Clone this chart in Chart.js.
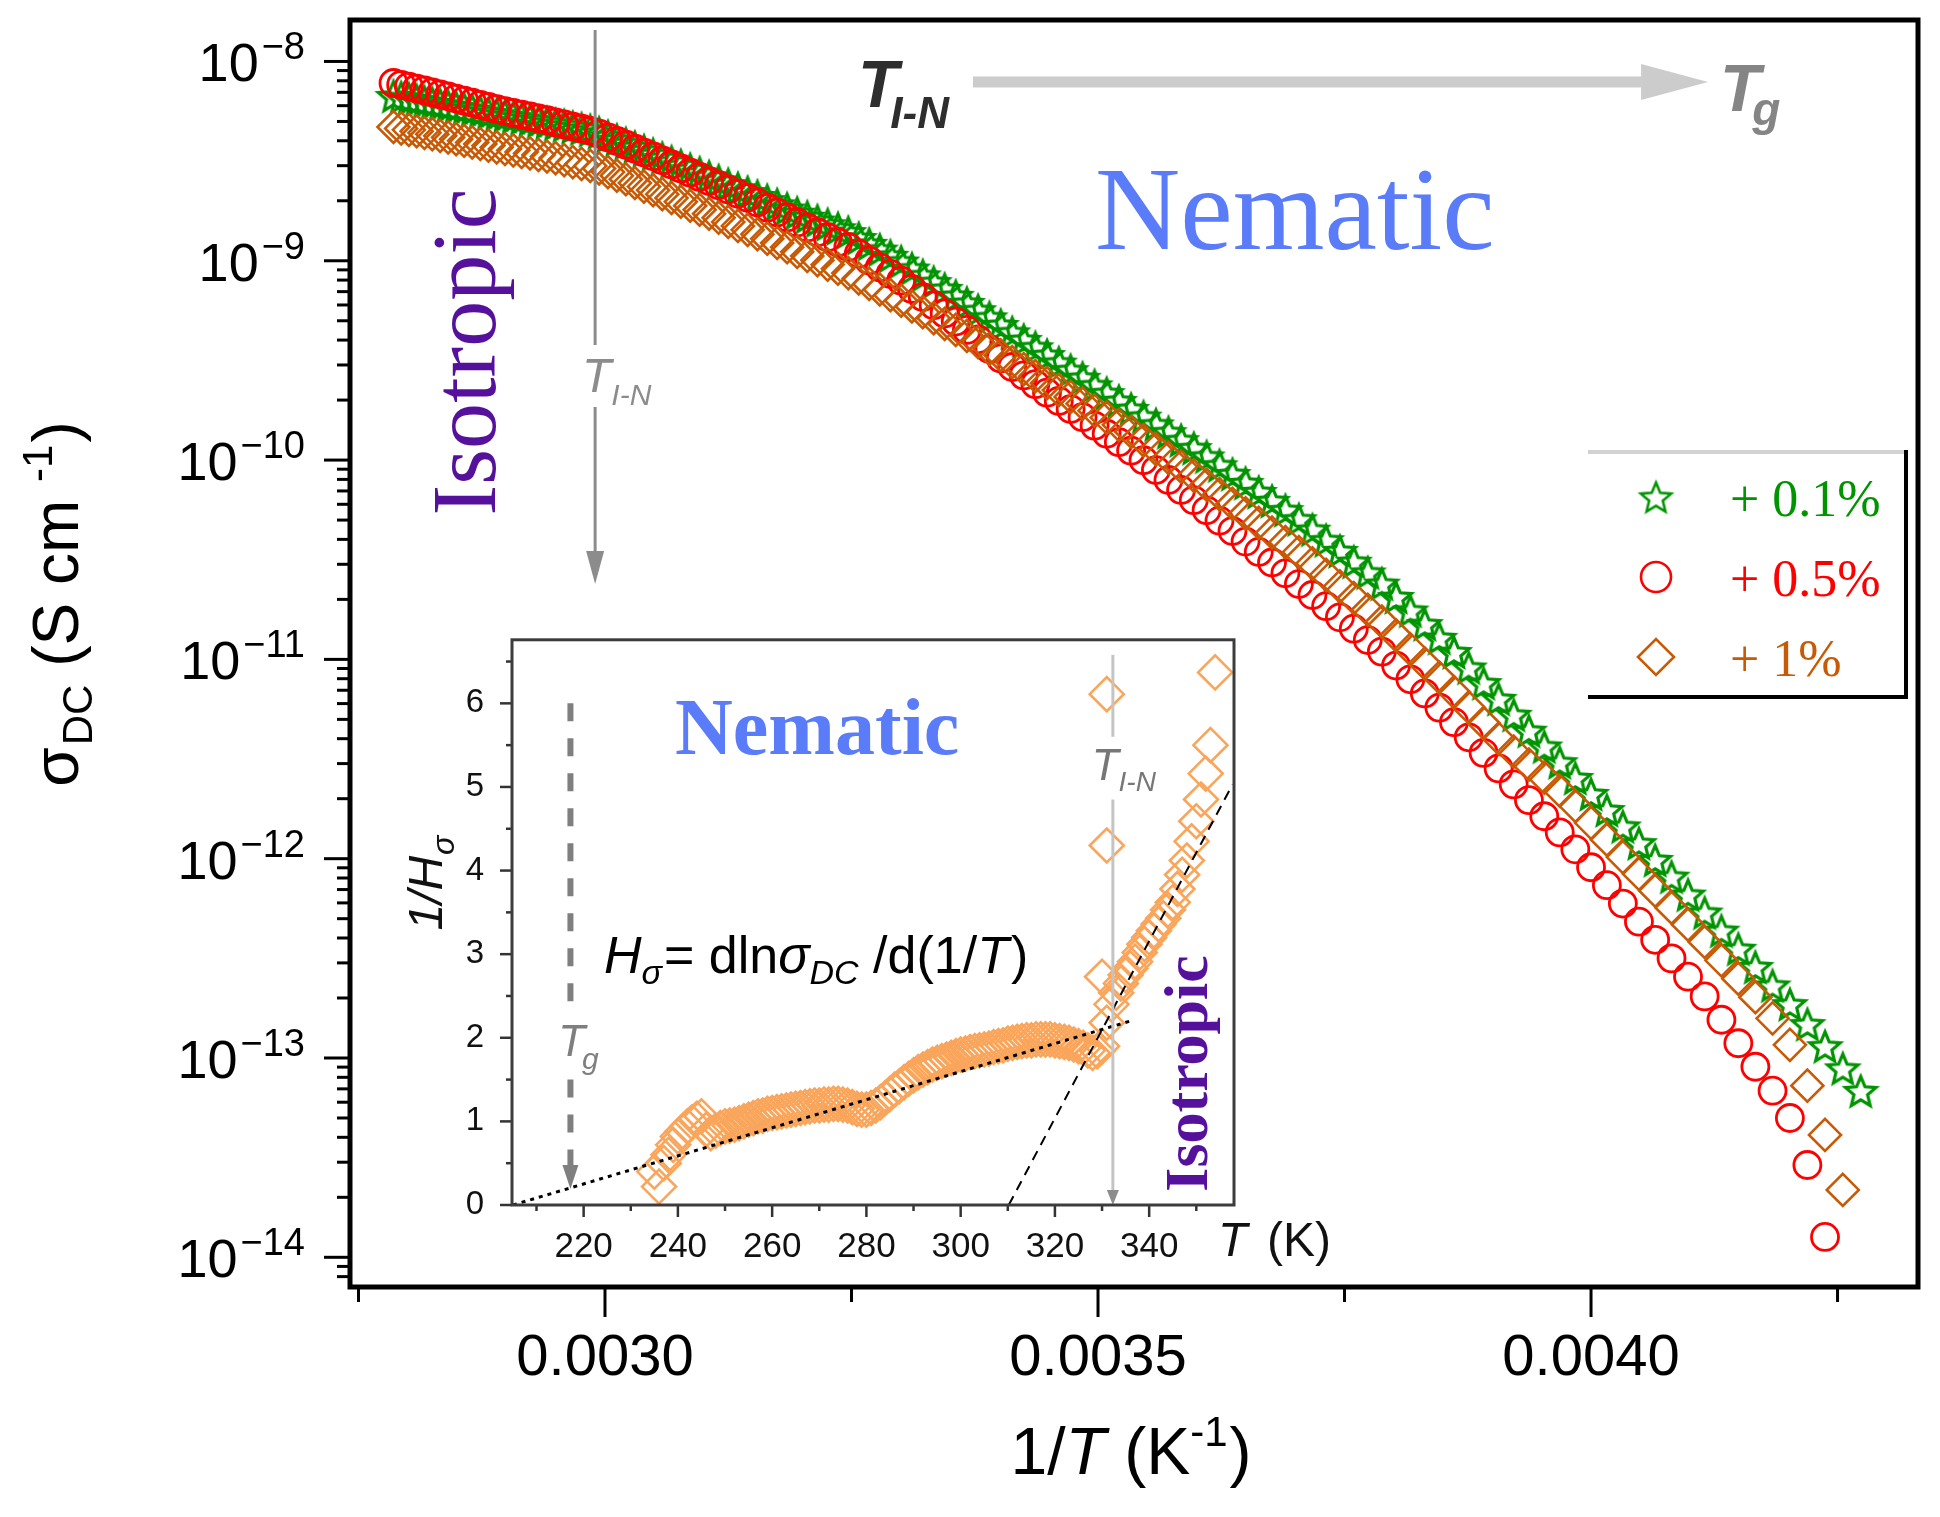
<!DOCTYPE html>
<html>
<head>
<meta charset="utf-8">
<script src="https://cdn.jsdelivr.net/npm/chart.js@4.4.0/dist/chart.umd.min.js"></script>
<style>
  html, body { margin: 0; padding: 0; background: #fff; }
  #wrap { position: relative; width: 1940px; height: 1517px; }
  #main-chart { position: absolute; left: 0; top: 0; }
  #inset-chart { position: absolute; left: 380px; top: 600px; }
</style>
</head>
<body>
<div id="wrap">
  <canvas id="main-chart" width="1940" height="1517"></canvas>
  <canvas id="inset-chart" width="970" height="690"></canvas>
</div>
<script>
const SANS = '"Liberation Sans", Arial, sans-serif';
const SERIF = '"Liberation Serif", "Times New Roman", serif';

// measurement temperatures (K); plotted as 1/T
const tempK = [
  359, 358, 357, 356, 355, 354, 353, 352, 351, 350,
  349, 348, 347, 346, 345, 344, 343, 342, 341, 340,
  339, 338, 337, 336, 335, 334, 333, 332, 331, 330,
  329, 328, 327, 326, 325, 324, 323, 322, 321, 320,
  319, 318, 317, 316, 315, 314, 313, 312, 311, 310,
  309, 308, 307, 306, 305, 304, 303, 302, 301, 300,
  299, 298, 297, 296, 295, 294, 293, 292, 291, 290,
  289, 288, 287, 286, 285, 284, 283, 282, 281, 280,
  279, 278, 277, 276, 275, 274, 273, 272, 271, 270,
  269, 268, 267, 266, 265, 264, 263, 262, 261, 260,
  259, 258, 257, 256, 255, 254, 253, 252, 251, 250,
  249, 248, 247, 246, 245, 244, 243, 242, 241, 240,
  239, 238, 237, 236, 235, 234
];

// log10 of sigma_DC (S/cm), same order as tempK
const logSigma01 = [
  -8.173, -8.180, -8.187, -8.194, -8.201, -8.208, -8.215, -8.222, -8.229, -8.236,
  -8.243, -8.251, -8.258, -8.265, -8.272, -8.279, -8.286, -8.292, -8.299, -8.306,
  -8.314, -8.321, -8.329, -8.337, -8.345, -8.357, -8.375, -8.393, -8.411, -8.429,
  -8.447, -8.465, -8.484, -8.502, -8.521, -8.540, -8.558, -8.577, -8.597, -8.616,
  -8.636, -8.655, -8.675, -8.696, -8.717, -8.738, -8.759, -8.779, -8.798, -8.817,
  -8.837, -8.856, -8.886, -8.915, -8.944, -8.975, -9.004, -9.039, -9.073, -9.107,
  -9.141, -9.176, -9.211, -9.248, -9.284, -9.322, -9.359, -9.397, -9.434, -9.473,
  -9.511, -9.549, -9.587, -9.625, -9.664, -9.703, -9.743, -9.782, -9.821, -9.860,
  -9.900, -9.940, -9.982, -10.026, -10.070, -10.115, -10.160, -10.205, -10.251, -10.297,
  -10.349, -10.402, -10.456, -10.510, -10.564, -10.620, -10.687, -10.755, -10.823, -10.892,
  -10.963, -11.041, -11.119, -11.198, -11.278, -11.358, -11.437, -11.516, -11.595, -11.675,
  -11.756, -11.838, -11.922, -12.006, -12.090, -12.180, -12.270, -12.361, -12.452, -12.543,
  -12.636, -12.730, -12.830, -12.941, -13.052, -13.165
];
const logSigma05 = [
  -8.108, -8.117, -8.126, -8.136, -8.145, -8.155, -8.165, -8.175, -8.186, -8.197,
  -8.207, -8.218, -8.228, -8.239, -8.249, -8.258, -8.267, -8.276, -8.286, -8.295,
  -8.306, -8.316, -8.327, -8.337, -8.348, -8.362, -8.381, -8.399, -8.418, -8.438,
  -8.457, -8.476, -8.496, -8.517, -8.537, -8.558, -8.579, -8.600, -8.621, -8.642,
  -8.663, -8.684, -8.708, -8.734, -8.758, -8.783, -8.808, -8.833, -8.857, -8.882,
  -8.907, -8.931, -8.965, -8.999, -9.033, -9.066, -9.100, -9.141, -9.182, -9.223,
  -9.264, -9.305, -9.347, -9.394, -9.443, -9.490, -9.533, -9.575, -9.619, -9.662,
  -9.703, -9.744, -9.785, -9.827, -9.868, -9.910, -9.953, -10.001, -10.050, -10.100,
  -10.150, -10.201, -10.252, -10.304, -10.356, -10.409, -10.461, -10.514, -10.568, -10.622,
  -10.677, -10.733, -10.789, -10.846, -10.903, -10.961, -11.031, -11.100, -11.171, -11.242,
  -11.315, -11.391, -11.469, -11.547, -11.627, -11.706, -11.787, -11.868, -11.953, -12.043,
  -12.133, -12.225, -12.316, -12.407, -12.500, -12.592, -12.691, -12.808, -12.926, -13.044,
  -13.164, -13.301, -13.537, -13.898
];
const logSigma1 = [
  -8.329, -8.336, -8.343, -8.350, -8.358, -8.365, -8.373, -8.381, -8.390, -8.398,
  -8.406, -8.414, -8.422, -8.431, -8.439, -8.446, -8.454, -8.461, -8.469, -8.477,
  -8.485, -8.495, -8.505, -8.514, -8.524, -8.537, -8.555, -8.573, -8.591, -8.610,
  -8.628, -8.646, -8.666, -8.685, -8.704, -8.724, -8.744, -8.764, -8.784, -8.805,
  -8.825, -8.845, -8.867, -8.889, -8.911, -8.932, -8.955, -8.976, -8.997, -9.019,
  -9.040, -9.062, -9.089, -9.116, -9.144, -9.172, -9.200, -9.229, -9.258, -9.288,
  -9.317, -9.347, -9.377, -9.409, -9.442, -9.475, -9.509, -9.544, -9.579, -9.614,
  -9.649, -9.683, -9.717, -9.752, -9.787, -9.823, -9.858, -9.901, -9.945, -9.989,
  -10.033, -10.078, -10.124, -10.171, -10.219, -10.267, -10.315, -10.364, -10.412, -10.462,
  -10.518, -10.576, -10.634, -10.692, -10.751, -10.811, -10.880, -10.950, -11.021, -11.091,
  -11.164, -11.241, -11.319, -11.397, -11.463, -11.528, -11.593, -11.659, -11.735, -11.820,
  -11.905, -11.992, -12.077, -12.161, -12.246, -12.331, -12.418, -12.510, -12.602, -12.695,
  -12.801, -12.934, -13.139, -13.386, -13.662
];

const seriesNames = ['+ 0.1%', '+ 0.5%', '+ 1%'];
const seriesColors = ['#009400', '#ff0000', '#c85a06'];

// main axes
const xTickVals = [0.00275, 0.0030, 0.00325, 0.0035, 0.00375, 0.0040, 0.00425];
const xTickLabels = ['', '0.0030', '', '0.0035', '', '0.0040', ''];
const yDecades = [-8, -9, -10, -11, -12, -13, -14];

// inset: 1/H_sigma against T
const insetT = [
  235, 236, 237, 238, 239, 240, 241, 242, 243, 244,
  245, 246, 247, 248, 249, 250, 251, 252, 253, 254,
  255, 256, 257, 258, 259, 260, 261, 262, 263, 264,
  265, 266, 267, 268, 269, 270, 271, 272, 273, 274,
  275, 276, 277, 278, 279, 280, 281, 282, 283, 284,
  285, 286, 287, 288, 289, 290, 291, 292, 293, 294,
  295, 296, 297, 298, 299, 300, 301, 302, 303, 304,
  305, 306, 307, 308, 309, 310, 311, 312, 313, 314,
  315, 316, 317, 318, 319, 320, 321, 322, 323, 324,
  325, 326, 327, 328, 329, 330, 331, 332, 333, 334,
  335, 336, 337, 338, 339, 340, 341, 342, 343, 344,
  345, 346, 347, 348, 349, 350, 351, 352, 353,
  330, 331, 331, 354
];
const insetInvH = [
  0.40, 0.22, 0.50, 0.60, 0.72, 0.82, 0.88, 0.94, 0.99, 1.03,
  1.06, 0.90, 0.86, 0.89, 0.92, 0.94, 0.95, 0.96, 0.98, 1.00,
  1.02, 1.04, 1.06, 1.07, 1.09, 1.10, 1.11, 1.12, 1.13, 1.14,
  1.15, 1.16, 1.17, 1.18, 1.19, 1.19, 1.20, 1.20, 1.21, 1.21,
  1.20, 1.19, 1.17, 1.15, 1.14, 1.14, 1.16, 1.19, 1.23, 1.28,
  1.33, 1.38, 1.42, 1.47, 1.51, 1.55, 1.59, 1.62, 1.65, 1.68,
  1.70, 1.72, 1.74, 1.76, 1.78, 1.80, 1.81, 1.83, 1.84, 1.85,
  1.86, 1.87, 1.89, 1.90, 1.91, 1.93, 1.94, 1.95, 1.96, 1.97,
  1.97, 1.98, 1.98, 1.98, 1.98, 1.97, 1.96, 1.95, 1.94, 1.92,
  1.90, 1.88, 1.85, 1.82, 1.84, 1.90, 2.18, 2.40, 2.54, 2.65,
  2.75, 2.83, 2.91, 3.02, 3.12, 3.20, 3.28, 3.36, 3.43, 3.53,
  3.62, 3.78, 3.95, 4.12, 4.35, 4.59, 4.85, 5.16, 5.50,
  2.73, 4.30, 6.11, 6.37
];
const fitNematicT = [205, 336];
const fitNematicH = [0, 2.2];
const fitIsoT = [310.2, 357.7];
const fitIsoH = [0, 5.03];
const insetXTicks = [220, 240, 260, 280, 300, 320, 340];
const insetXMinor = [210, 230, 250, 270, 290, 310, 330, 350];
const insetYTicks = [0, 1, 2, 3, 4, 5, 6];
const insetYMinor = [0.5, 1.5, 2.5, 3.5, 4.5, 5.5, 6.5];

// ---- helpers ----
function makeStar(color, r, lw) {
  const c = document.createElement('canvas');
  const s = Math.ceil(2 * r + lw + 4);
  c.width = s; c.height = s;
  const g = c.getContext('2d');
  g.translate(s / 2, s / 2 + r * 0.1);
  g.beginPath();
  for (let i = 0; i < 10; i++) {
    const rad = i % 2 ? r * 0.45 : r;
    const ang = -Math.PI / 2 + i * Math.PI / 5;
    g.lineTo(rad * Math.cos(ang), rad * Math.sin(ang));
  }
  g.closePath();
  g.strokeStyle = color;
  g.lineWidth = lw;
  g.stroke();
  return c;
}

function richText(ctx, parts, x, y, align) {
  let total = 0;
  parts.forEach(p => {
    ctx.font = p.font;
    p.w = ctx.measureText(p.t).width;
    total += p.w + (p.gap || 0);
  });
  let cx = align === 'center' ? x - total / 2 : (align === 'right' ? x - total : x);
  ctx.textAlign = 'left';
  ctx.textBaseline = 'alphabetic';
  parts.forEach(p => {
    cx += p.gap || 0;
    ctx.font = p.font;
    ctx.fillText(p.t, cx, y + (p.dy || 0));
    cx += p.w;
  });
}

function seg(ctx, x1, y1, x2, y2) {
  ctx.beginPath();
  ctx.moveTo(x1, y1);
  ctx.lineTo(x2, y2);
  ctx.stroke();
}

function arrowDown(ctx, x, tipY, h, hw) {
  ctx.beginPath();
  ctx.moveTo(x - hw, tipY - h);
  ctx.lineTo(x + hw, tipY - h);
  ctx.lineTo(x, tipY);
  ctx.closePath();
  ctx.fill();
}

const starMain = makeStar(seriesColors[0], 16, 3.2);
const starLegend = makeStar(seriesColors[0], 16, 2.6);

function pts(logs) {
  return logs.map((l, i) => ({ x: 1 / tempK[i], y: Math.pow(10, l) }));
}

// ---- main plot decorations ----
const mainDecor = {
  id: 'mainDecor',
  afterDraw(chart) {
    const ctx = chart.ctx;
    const a = chart.chartArea;
    const xs = chart.scales.x, ys = chart.scales.y;
    const X = v => xs.getPixelForValue(v);
    const Y = l => ys.getPixelForValue(Math.pow(10, l));
    ctx.save();

    // ticks
    ctx.strokeStyle = '#000';
    ctx.lineWidth = 3;
    xTickVals.forEach((v, i) => {
      const len = xTickLabels[i] ? 30 : 15;
      seg(ctx, X(v), a.bottom, X(v), a.bottom + len);
    });
    const lmin = Math.log10(ys.min), lmax = Math.log10(ys.max);
    for (let d = -15; d <= -8; d++) {
      for (let m = 1; m <= 9; m++) {
        const l = d + Math.log10(m);
        if (l < lmin || l > lmax) continue;
        const len = m === 1 ? 26 : 13;
        seg(ctx, a.left, Y(l), a.left - len, Y(l));
      }
    }

    // y tick labels 10^-n
    ctx.fillStyle = '#000';
    yDecades.forEach(d => {
      const py = Y(d);
      const sup = '\u2212' + (-d);
      ctx.font = '38px ' + SANS;
      const sw = ctx.measureText(sup).width;
      const sx = a.left - 45 - sw;
      ctx.textAlign = 'left';
      ctx.textBaseline = 'alphabetic';
      ctx.fillText(sup, sx, py - 2);
      ctx.font = '54px ' + SANS;
      ctx.textAlign = 'right';
      ctx.fillText('10', sx - 3, py + 20);
    });

    // axis titles
    richText(ctx, [
      { t: '1/', font: '66px ' + SANS },
      { t: 'T', font: 'italic 66px ' + SANS },
      { t: ' (K', font: '66px ' + SANS },
      { t: '-1', font: '42px ' + SANS, dy: -28 },
      { t: ')', font: '66px ' + SANS, gap: 2 }
    ], (a.left + a.right) / 2 - 3, 1474, 'center');

    ctx.save();
    ctx.translate(78, 604);
    ctx.rotate(-Math.PI / 2);
    richText(ctx, [
      { t: '\u03c3', font: '64px ' + SANS },
      { t: 'DC', font: '42px ' + SANS, dy: 14, gap: 2 },
      { t: ' (S cm ', font: '64px ' + SANS },
      { t: '-1', font: '42px ' + SANS, dy: -26 },
      { t: ')', font: '64px ' + SANS, gap: 2 }
    ], 0, 0, 'center');
    ctx.restore();

    // T_I-N vertical marker with arrow
    const tx = X(0.00299);
    ctx.strokeStyle = '#8c8c8c';
    ctx.fillStyle = '#8c8c8c';
    ctx.lineWidth = 3;
    seg(ctx, tx, Y(-7.842), tx, Y(-9.4225));
    seg(ctx, tx, Y(-9.7336), tx, Y(-10.6217) - 30);
    arrowDown(ctx, tx, Y(-10.6217), 33, 9);
    richText(ctx, [
      { t: 'T', font: 'italic 48px ' + SANS },
      { t: 'I-N', font: 'italic 30px ' + SANS, dy: 13, gap: 0 }
    ], X(0.0029919) - 15, Y(-9.6583), 'left');

    // T_I-N -> T_g arrow
    const ax1 = X(0.0033732), ax2 = X(0.0041187), ay = Y(-8.1028);
    ctx.fillStyle = '#cccccc';
    ctx.fillRect(ax1, ay - 5.5, ax2 - 67 - ax1, 11);
    ctx.beginPath();
    ctx.moveTo(ax2 - 67, ay - 18);
    ctx.lineTo(ax2, ay);
    ctx.lineTo(ax2 - 67, ay + 18);
    ctx.closePath();
    ctx.fill();
    ctx.fillStyle = '#2e2e2e';
    richText(ctx, [
      { t: 'T', font: 'italic bold 66px ' + SANS },
      { t: 'I-N', font: 'italic bold 44px ' + SANS, dy: 21, gap: -8 }
    ], X(0.0032566), Y(-8.2283), 'left');
    ctx.fillStyle = '#858585';
    richText(ctx, [
      { t: 'T', font: 'italic bold 66px ' + SANS },
      { t: 'g', font: 'italic bold 46px ' + SANS, dy: 14, gap: -8 }
    ], X(0.0041308), Y(-8.2483), 'left');

    // phase labels
    ctx.fillStyle = '#5b7cf8';
    ctx.font = '118px ' + SERIF;
    ctx.textAlign = 'left';
    ctx.textBaseline = 'alphabetic';
    ctx.fillText('Nematic', X(0.003497), Y(-8.9408));

    ctx.save();
    ctx.translate(X(0.0028884), Y(-9.4576));
    ctx.rotate(-Math.PI / 2);
    ctx.fillStyle = '#55109c';
    ctx.font = '92px ' + SERIF;
    ctx.textAlign = 'center';
    ctx.fillText('Isotropic', 0, 0);
    ctx.restore();

    // legend box
    const lr = a.right - 12, lt = a.top + 432, lb = lt + 245, ll = lr - 318;
    ctx.lineWidth = 4;
    ctx.strokeStyle = '#d2d2d2';
    seg(ctx, ll, lt, lr, lt);
    ctx.strokeStyle = '#000';
    seg(ctx, lr, lt - 2, lr, lb + 2);
    seg(ctx, ll, lb, lr, lb);
    const styles = [
      { pointStyle: starLegend, radius: 16 },
      { pointStyle: 'circle', radius: 15 },
      { pointStyle: 'rectRot', radius: 18 }
    ];
    seriesNames.forEach((name, i) => {
      const cy = lt + 45 + i * 80;
      ctx.strokeStyle = seriesColors[i];
      ctx.fillStyle = 'rgba(0,0,0,0)';
      ctx.lineWidth = 2.6;
      Chart.helpers.drawPoint(ctx, { pointStyle: styles[i].pointStyle, radius: styles[i].radius, rotation: 0, borderWidth: 2.6 }, ll + 68, cy);
      ctx.fillStyle = seriesColors[i];
      ctx.font = '52px ' + SERIF;
      ctx.textAlign = 'left';
      ctx.textBaseline = 'alphabetic';
      ctx.fillText(name, ll + 142, cy + 19);
    });

    // frame
    ctx.strokeStyle = '#000';
    ctx.lineWidth = 5;
    ctx.strokeRect(a.left, a.top, a.right - a.left, a.bottom - a.top);
    ctx.restore();
  }
};

const mainChart = new Chart(document.getElementById('main-chart'), {
  type: 'scatter',
  data: {
    datasets: [
      {
        label: seriesNames[0], data: pts(logSigma01), order: 3,
        pointStyle: starMain, pointRadius: 16, borderColor: seriesColors[0],
        backgroundColor: 'rgba(0,0,0,0)', pointBorderWidth: 3
      },
      {
        label: seriesNames[1], data: pts(logSigma05), order: 2,
        pointStyle: 'circle', pointRadius: 13.5, borderColor: seriesColors[1],
        backgroundColor: 'rgba(0,0,0,0)', pointBorderWidth: 2.8
      },
      {
        label: seriesNames[2], data: pts(logSigma1), order: 1,
        pointStyle: 'rectRot', pointRadius: 16, borderColor: seriesColors[2],
        backgroundColor: 'rgba(0,0,0,0)', pointBorderWidth: 2.6
      }
    ]
  },
  options: {
    responsive: false,
    devicePixelRatio: 1,
    animation: false,
    events: [],
    layout: { padding: { left: 0, top: 20, right: 22, bottom: 0 } },
    plugins: { legend: { display: false }, tooltip: { enabled: false } },
    scales: {
      x: {
        type: 'linear',
        min: 0.0027414,
        max: 0.0043316,
        grid: { display: false },
        border: { display: false },
        afterBuildTicks: s => { s.ticks = xTickVals.map(v => ({ value: v })); },
        afterFit: s => { s.height = 230; },
        ticks: {
          autoSkip: false,
          maxRotation: 0,
          padding: 29,
          color: '#000',
          font: { family: SANS, size: 58 },
          callback: (v, i) => xTickLabels[i]
        }
      },
      y: {
        type: 'logarithmic',
        min: Math.pow(10, -14.149),
        max: Math.pow(10, -7.792),
        grid: { display: false },
        border: { display: false },
        ticks: { display: false },
        afterFit: s => { s.width = 350; }
      }
    }
  },
  plugins: [mainDecor]
});

// ---- inset ----
const insetDecor = {
  id: 'insetDecor',
  afterDraw(chart) {
    const ctx = chart.ctx;
    const a = chart.chartArea;
    const xs = chart.scales.x, ys = chart.scales.y;
    const X = v => xs.getPixelForValue(v);
    const Y = v => ys.getPixelForValue(v);
    ctx.save();

    // ticks
    ctx.strokeStyle = '#333';
    ctx.lineWidth = 2.5;
    insetXTicks.forEach(v => seg(ctx, X(v), a.bottom, X(v), a.bottom + 12));
    insetXMinor.forEach(v => seg(ctx, X(v), a.bottom, X(v), a.bottom + 6));
    insetYTicks.forEach(v => seg(ctx, a.left, Y(v), a.left - 12, Y(v)));
    insetYMinor.forEach(v => seg(ctx, a.left, Y(v), a.left - 6, Y(v)));

    // axis titles
    ctx.fillStyle = '#111';
    richText(ctx, [{ t: 'T', font: 'italic 48px ' + SANS }], X(354.6), a.bottom + 51, 'left');
    richText(ctx, [{ t: '(K)', font: '48px ' + SANS }], X(354.6) + 49, a.bottom + 51, 'left');
    ctx.save();
    ctx.translate(a.left - 70, Y(3.85));
    ctx.rotate(-Math.PI / 2);
    richText(ctx, [
      { t: '1/H', font: 'italic 48px ' + SANS },
      { t: '\u03c3', font: 'italic 32px ' + SANS, dy: 12, gap: 1 }
    ], 0, 0, 'center');
    ctx.restore();

    // T_g dashed marker
    const gx = X(217.2);
    ctx.strokeStyle = '#7f7f7f';
    ctx.fillStyle = '#7f7f7f';
    ctx.lineWidth = 6;
    ctx.setLineDash([18, 17]);
    seg(ctx, gx, Y(6.0), gx, Y(2.3));
    seg(ctx, gx, Y(1.5), gx, Y(0.47));
    ctx.setLineDash([]);
    arrowDown(ctx, gx, Y(0.19), 24, 8);
    richText(ctx, [
      { t: 'T', font: 'italic 44px ' + SANS },
      { t: 'g', font: 'italic 30px ' + SANS, dy: 13, gap: -3 }
    ], X(214.6), Y(1.784), 'left');

    // T_I-N marker
    const nx = X(332.3);
    ctx.strokeStyle = '#c4c4c4';
    ctx.lineWidth = 3;
    seg(ctx, nx, Y(6.58), nx, Y(5.6));
    seg(ctx, nx, Y(4.85), nx, a.bottom - 14);
    ctx.fillStyle = '#8c8c8c';
    arrowDown(ctx, nx, a.bottom, 15, 6);
    ctx.fillStyle = '#777';
    richText(ctx, [
      { t: 'T', font: 'italic 44px ' + SANS },
      { t: 'I-N', font: 'italic 28px ' + SANS, dy: 11, gap: 0 }
    ], X(327.8), Y(5.08), 'left');

    // texts
    ctx.fillStyle = '#5b7cf8';
    ctx.font = 'bold 80px ' + SERIF;
    ctx.textAlign = 'left';
    ctx.textBaseline = 'alphabetic';
    ctx.fillText('Nematic', X(239.4), Y(5.40));

    ctx.save();
    ctx.translate(X(352.3), Y(1.573));
    ctx.rotate(-Math.PI / 2);
    ctx.fillStyle = '#55109c';
    ctx.font = 'bold 62px ' + SERIF;
    ctx.textAlign = 'center';
    ctx.fillText('Isotropic', 0, 0);
    ctx.restore();

    ctx.fillStyle = '#000';
    richText(ctx, [
      { t: 'H', font: 'italic 52px ' + SANS },
      { t: '\u03c3', font: 'italic 34px ' + SANS, dy: 11 },
      { t: '= dln', font: '52px ' + SANS, gap: 2 },
      { t: '\u03c3', font: 'italic 52px ' + SANS },
      { t: 'DC', font: 'italic 34px ' + SANS, dy: 11 },
      { t: ' /d(1/', font: '52px ' + SANS },
      { t: 'T', font: 'italic 52px ' + SANS },
      { t: ')', font: '52px ' + SANS, gap: 2 }
    ], X(224.3), Y(2.78), 'left');

    // frame
    ctx.strokeStyle = '#3c3c3c';
    ctx.lineWidth = 3;
    ctx.strokeRect(a.left, a.top, a.right - a.left, a.bottom - a.top);
    ctx.restore();
  }
};

const insetChart = new Chart(document.getElementById('inset-chart'), {
  type: 'scatter',
  data: {
    datasets: [
      {
        label: 'nematic fit', data: fitNematicT.map((t, i) => ({ x: t, y: fitNematicH[i] })),
        showLine: true, pointRadius: 0, borderColor: '#000', borderWidth: 3,
        borderDash: [4, 5], order: 1
      },
      {
        label: 'isotropic fit', data: fitIsoT.map((t, i) => ({ x: t, y: fitIsoH[i] })),
        showLine: true, pointRadius: 0, borderColor: '#000', borderWidth: 2,
        borderDash: [10, 7], order: 1
      },
      {
        label: '1/H', data: insetT.map((t, i) => ({ x: t, y: insetInvH[i] })),
        pointStyle: 'rectRot', pointRadius: 17, borderColor: '#f9a65c',
        backgroundColor: 'rgba(0,0,0,0)', pointBorderWidth: 2.6, order: 2
      }
    ]
  },
  options: {
    responsive: false,
    devicePixelRatio: 1,
    animation: false,
    events: [],
    layout: { padding: { left: 0, top: 29, right: 116, bottom: 0 } },
    plugins: { legend: { display: false }, tooltip: { enabled: false } },
    scales: {
      x: {
        type: 'linear',
        min: 204.8,
        max: 358.0,
        grid: { display: false },
        border: { display: false },
        afterBuildTicks: s => { s.ticks = insetXTicks.map(v => ({ value: v })); },
        afterFit: s => { s.height = 85; },
        ticks: { autoSkip: false, maxRotation: 0, padding: 13, color: '#111', font: { family: SANS, size: 35 } }
      },
      y: {
        type: 'linear',
        min: 0,
        max: 6.76,
        grid: { display: false },
        border: { display: false },
        afterBuildTicks: s => { s.ticks = insetYTicks.map(v => ({ value: v })); },
        afterFit: s => { s.width = 132; },
        ticks: { padding: 20, color: '#111', font: { family: SANS, size: 33 } }
      }
    }
  },
  plugins: [insetDecor]
});
</script>
</body>
</html>
